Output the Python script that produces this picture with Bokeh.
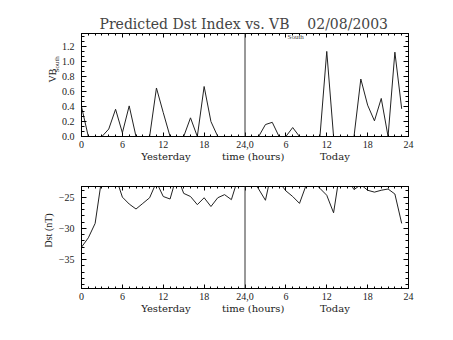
import numpy as np
from bokeh.plotting import figure
from bokeh.layouts import column
from bokeh.models import Range1d, LinearAxis, FixedTicker, Span, Label, Title
from bokeh.embed import file_html
from bokeh.resources import INLINE

# ---------------- data ----------------
hours = list(range(48))  # 0..23 yesterday, 24..47 today
vb_south = [0.40, 0.0, 0.0, 0.0, 0.10, 0.365, 0.05, 0.41, 0.0, 0.0, 0.0, 0.65,
            0.32, 0.0, 0.0, 0.0, 0.25, 0.0, 0.67, 0.20, 0.0, 0.0, 0.0, 0.0,
            0.0, 0.0, 0.0, 0.16, 0.19, 0.0, 0.0, 0.12, 0.0, 0.0, 0.0, 0.0,
            1.14, 0.0, 0.0, 0.0, 0.0, 0.77, 0.42, 0.21, 0.51, 0.0, 1.13, 0.37]
dst = [-33.0, -31.5, -29.2, -21.8, -21.0, -21.7, -25.0, -26.1, -26.9, -26.0, -25.1, -22.6,
       -24.9, -25.3, -21.5, -24.4, -24.9, -26.2, -25.1, -26.5, -25.1, -24.6, -25.4, -21.9,
       -21.0, -22.0, -23.7, -25.5, -20.5, -22.6, -24.0, -24.9, -26.0, -23.0, -22.5, -23.6,
       -24.7, -27.5, -20.5, -22.0, -23.8, -23.0, -23.9, -24.2, -23.9, -23.7, -24.5, -29.2]

x_ticks = [0, 6, 12, 18, 24, 30, 36, 42, 48]
x_tick_labels = ["0", "6", "12", "18", "24,0", "6", "12", "18", "24"]
day_label_pos = [12.4, 25.2, 37.2]
day_labels = ["Yesterday", "time (hours)", "Today"]

vb_ticks = [0.0, 0.2, 0.4, 0.6, 0.8, 1.0, 1.2]
dst_ticks = [-35, -30, -25]

title_main = "Predicted Dst Index vs. VB"
title_sub = "South"
title_date = "02/08/2003"

SERIF = "DejaVu Serif"
TICKF = "Liberation Serif"


def hidden_axis(ticks, minor, tin, tmin):
    a = LinearAxis(ticker=FixedTicker(ticks=ticks, minor_ticks=minor))
    a.major_label_text_font_size = "0px"
    a.major_label_text_color = None
    a.major_label_standoff = 0
    a.major_tick_in = tin
    a.major_tick_out = 0
    a.minor_tick_in = tmin
    a.minor_tick_out = 0
    return a


def style(p, yticks, yminor, ylabels):
    p.background_fill_color = "white"
    p.border_fill_color = "white"
    p.outline_line_color = "black"
    p.outline_line_width = 1
    p.grid.visible = False
    xminor = list(np.arange(0, 48.01, 1.0))
    # bottom axis
    ax = p.xaxis[0]
    ax.ticker = FixedTicker(ticks=x_ticks, minor_ticks=xminor)
    ax.major_label_overrides = {t: l for t, l in zip(x_ticks, x_tick_labels)}
    ax.major_tick_in = 4
    ax.major_tick_out = 0
    ax.minor_tick_in = 2
    ax.minor_tick_out = 0
    ax.major_label_standoff = 4
    ax.major_label_text_font = TICKF
    ax.major_label_text_font_size = "10px"
    ax.major_label_text_color = "#222"
    ax.axis_line_color = "black"
    # second bottom axis for day labels
    ax2 = LinearAxis(ticker=FixedTicker(ticks=day_label_pos, minor_ticks=[]),
                     major_label_overrides={t: l for t, l in zip(day_label_pos, day_labels)})
    ax2.axis_line_color = None
    ax2.major_tick_line_color = None
    ax2.minor_tick_line_color = None
    ax2.major_tick_in = 0
    ax2.major_tick_out = 0
    ax2.major_label_standoff = 0
    ax2.major_label_text_font = SERIF
    ax2.major_label_text_font_size = "10px"
    ax2.major_label_text_color = "#222"
    p.add_layout(ax2, "below")
    # top axis
    p.add_layout(hidden_axis(x_ticks, xminor, 4, 2), "above")
    # left axis
    ay = p.yaxis[0]
    ay.ticker = FixedTicker(ticks=yticks, minor_ticks=yminor)
    ay.major_label_overrides = {t: l for t, l in zip(yticks, ylabels)}
    ay.major_tick_in = 5
    ay.major_tick_out = 0
    ay.minor_tick_in = 3
    ay.minor_tick_out = 0
    ay.major_label_standoff = 7
    ay.major_label_text_font = TICKF
    ay.major_label_text_font_size = "10px"
    ay.major_label_text_color = "#222"
    # right axis
    p.add_layout(hidden_axis(yticks, yminor, 5, 3), "right")
    p.add_layout(Span(location=24, dimension="height", line_color="#333", line_width=1))


# ---------------- top panel ----------------
p1 = figure(width=453, height=170, output_backend="svg", toolbar_location=None,
            x_range=Range1d(0, 48), y_range=Range1d(0, 1.38),
            min_border_left=81, min_border_right=45, min_border_top=33, min_border_bottom=34)
style(p1, vb_ticks, list(np.arange(0, 1.38, 0.2 / 3)), ["%.1f" % v for v in vb_ticks])
p1.line(hours, vb_south, line_color="#222", line_width=1)

p1.title.text = title_main + "\u00a0" * 4 + title_date
p1.title.align = "left"
p1.title.offset = 18
p1.title.text_font = SERIF
p1.title.text_font_size = "14px"
p1.title.text_font_style = "normal"
p1.title.text_color = "#444"
p1.title.standoff = 3

p1.add_layout(Label(x=206, y=100, x_units="screen", y_units="screen", text=title_sub,
                    text_align="left", text_baseline="middle", text_font=TICKF,
                    text_font_size="7px", text_color="#444"))
p1.add_layout(Title(text=title_sub, align="left", offset=64, text_font=TICKF,
                    text_font_size="7px", text_font_style="normal", text_color="#222",
                    standoff=-4), "left")
p1.add_layout(Title(text="VB", align="left", offset=54, text_font=TICKF,
                    text_font_size="10px", text_font_style="normal", text_color="#222",
                    standoff=-10), "left")

# ---------------- bottom panel ----------------
p2 = figure(width=453, height=170, output_backend="svg", toolbar_location=None,
            x_range=Range1d(0, 48), y_range=Range1d(-39.6, -23.3),
            min_border_left=81, min_border_right=45, min_border_top=16, min_border_bottom=52)
style(p2, dst_ticks, list(np.arange(-39, -23.5, 1.0)), ["\u221235", "\u221230", "\u221225"])
p2.line(hours, dst, line_color="#222", line_width=1)
p2.add_layout(Title(text="Dst (nT)", align="left", offset=41, text_font=TICKF,
                    text_font_size="10px", text_font_style="normal", text_color="#222",
                    standoff=4), "left")

layout = column(p1, p2)
open("out.html", "w").write(file_html(layout, INLINE))
